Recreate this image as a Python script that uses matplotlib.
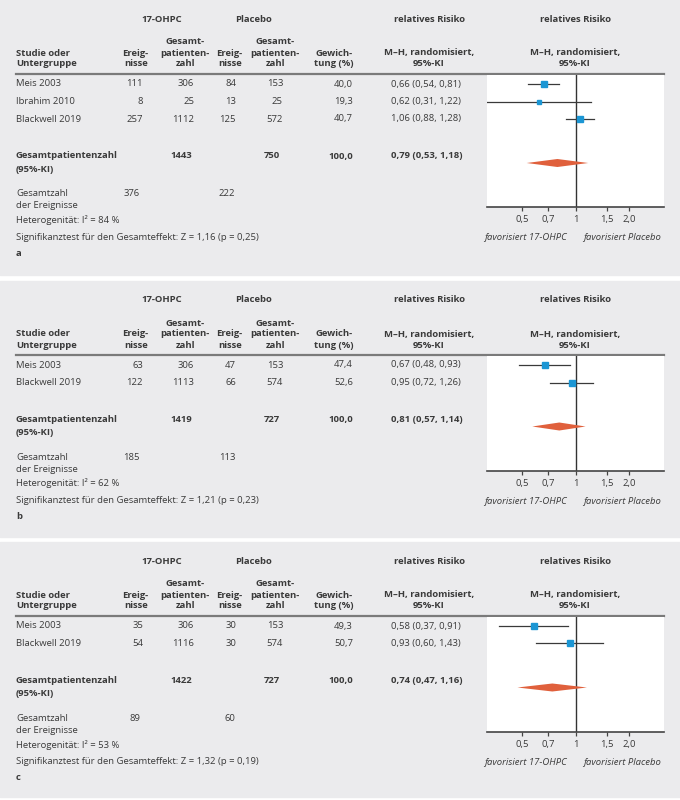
import matplotlib
matplotlib.use("Agg")
import matplotlib.pyplot as plt
from matplotlib.patches import Rectangle, Polygon
from matplotlib.ticker import FixedLocator, FixedFormatter, NullLocator

plt.rcParams['font.family'] = ['Open Sans', 'DejaVu Sans']

# ---- data ----
panel_labels = ['a', 'b', 'c']

studies_a = ['Meis 2003', 'Ibrahim 2010', 'Blackwell 2019']
ev_ohpc_a = [111, 8, 257]
n_ohpc_a = [306, 25, 1112]
ev_plc_a = [84, 13, 125]
n_plc_a = [153, 25, 572]
weight_a = [40.0, 19.3, 40.7]
rr_a = [0.66, 0.62, 1.06]
lo_a = [0.54, 0.31, 0.88]
hi_a = [0.81, 1.22, 1.28]

studies_b = ['Meis 2003', 'Blackwell 2019']
ev_ohpc_b = [63, 122]
n_ohpc_b = [306, 1113]
ev_plc_b = [47, 66]
n_plc_b = [153, 574]
weight_b = [47.4, 52.6]
rr_b = [0.67, 0.95]
lo_b = [0.48, 0.72]
hi_b = [0.93, 1.26]

studies_c = ['Meis 2003', 'Blackwell 2019']
ev_ohpc_c = [35, 54]
n_ohpc_c = [306, 1116]
ev_plc_c = [30, 30]
n_plc_c = [153, 574]
weight_c = [49.3, 50.7]
rr_c = [0.58, 0.93]
lo_c = [0.37, 0.60]
hi_c = [0.91, 1.43]

# pooled results per panel (a, b, c)
tot_n_ohpc = [1443, 1419, 1422]
tot_n_plc = [750, 727, 727]
tot_ev_ohpc = [376, 185, 89]
tot_ev_plc = [222, 113, 60]
tot_rr = [0.79, 0.81, 0.74]
tot_lo = [0.53, 0.57, 0.47]
tot_hi = [1.18, 1.14, 1.16]
i2 = [84, 62, 53]
z_val = [1.16, 1.21, 1.32]
p_val = [0.25, 0.23, 0.19]

tick_vals = [0.5, 0.7, 1, 1.5, 2.0]
tick_labels = ['0,5', '0,7', '1', '1,5', '2,0']

# ---- styling ----
W, H = 680, 800
BG = '#ebebed'
TXT = '#3a3a3a'
BLUE = '#1b96d4'
ORANGE = '#e0603c'
FS = 6.8

def de(v, nd=2):
    return f"{v:.{nd}f}".replace('.', ',')

fig = plt.figure(figsize=(W / 100, H / 100), dpi=100)
fig.patch.set_facecolor('white')
bg = fig.add_axes([0, 0, 1, 1])
bg.set_xlim(0, W)
bg.set_ylim(H, 0)
bg.axis('off')

def txt(x, y, s, ha='left', bold=False, italic=False):
    bg.text(x, y, s, ha=ha, va='center', fontsize=FS, color=TXT,
            fontweight='bold' if bold else 'normal',
            fontstyle='italic' if italic else 'normal')

panels = [
    (studies_a, ev_ohpc_a, n_ohpc_a, ev_plc_a, n_plc_a, weight_a, rr_a, lo_a, hi_a),
    (studies_b, ev_ohpc_b, n_ohpc_b, ev_plc_b, n_plc_b, weight_b, rr_b, lo_b, hi_b),
    (studies_c, ev_ohpc_c, n_ohpc_c, ev_plc_c, n_plc_c, weight_c, rr_c, lo_c, hi_c),
]
tops = [0, 281, 542]
bottoms = [275, 537, 797]

# forest plot x range in pixels
FX0, FX1 = 487, 664

for k, (names, e1, n1, e2, n2, w, rr, lo, hi) in enumerate(panels):
    t = tops[k]
    bg.add_patch(Rectangle((0, t), W, bottoms[k] - t, color=BG, zorder=0))

    # header
    txt(162, t + 19, '17-OHPC', ha='center', bold=True)
    txt(253, t + 19, 'Placebo', ha='center', bold=True)
    txt(429, t + 19, 'relatives Risiko', ha='center', bold=True)
    txt(575, t + 19, 'relatives Risiko', ha='center', bold=True)
    txt(16, t + 53, 'Studie oder', bold=True)
    txt(16, t + 64, 'Untergruppe', bold=True)
    for xr, xc in [(148, 185), (242, 275)]:
        txt(xr, t + 53, 'Ereig-', ha='right', bold=True)
        txt(xr, t + 64, 'nisse', ha='right', bold=True)
        txt(xc, t + 42, 'Gesamt-', ha='center', bold=True)
        txt(xc, t + 53, 'patienten-', ha='center', bold=True)
        txt(xc, t + 64, 'zahl', ha='center', bold=True)
    txt(334, t + 53, 'Gewich-', ha='center', bold=True)
    txt(334, t + 64, 'tung (%)', ha='center', bold=True)
    for xc in [429, 575]:
        txt(xc, t + 53, 'M–H, randomisiert,', ha='center', bold=True)
        txt(xc, t + 64, '95%-KI', ha='center', bold=True)
    bg.plot([16, 664], [t + 74, t + 74], color='#7a7a7a', lw=1.6, zorder=3)

    # study rows
    ys = [t + 84 + 17.5 * i for i in range(len(names))]
    for i, y in enumerate(ys):
        txt(16, y, names[i])
        txt(143, y, str(e1[i]), ha='right')
        txt(194, y, str(n1[i]), ha='right')
        txt(236, y, str(e2[i]), ha='right')
        txt(283, y, str(n2[i]), ha='right')
        txt(353, y, de(w[i], 1), ha='right')
        txt(426, y, f"{de(rr[i])} ({de(lo[i])}, {de(hi[i])})", ha='center')

    # pooled rows
    s = ys[-1] + 37
    txt(16, s, 'Gesamtpatientenzahl', bold=True)
    txt(16, s + 13, '(95%-KI)', bold=True)
    txt(192, s, str(tot_n_ohpc[k]), ha='right', bold=True)
    txt(280, s, str(tot_n_plc[k]), ha='right', bold=True)
    txt(353, s, '100,0', ha='right', bold=True)
    txt(427, s, f"{de(tot_rr[k])} ({de(tot_lo[k])}, {de(tot_hi[k])})", ha='center', bold=True)
    txt(16, s + 38, 'Gesamtzahl')
    txt(16, s + 50, 'der Ereignisse')
    txt(140, s + 38, str(tot_ev_ohpc[k]), ha='right')
    txt(235, s + 38, str(tot_ev_plc[k]), ha='right')
    txt(16, s + 64, f"Heterogenität: I² = {i2[k]} %")
    txt(16, s + 81, f"Signifikanztest für den Gesamteffekt: Z = {de(z_val[k])} (p = {de(p_val[k])})")
    txt(16, s + 97, panel_labels[k], bold=True)

    # forest plot
    line_y = t + 75
    axis_y = s + 51
    ax = fig.add_axes([FX0 / W, 1 - axis_y / H, (FX1 - FX0) / W, (axis_y - line_y) / H])
    ax.set_facecolor('white')
    ax.set_xscale('log')
    ax.set_xlim(10 ** -0.5, 10 ** 0.5)
    ax.set_ylim(axis_y, line_y)
    for sp in ['top', 'left', 'right']:
        ax.spines[sp].set_visible(False)
    ax.spines['bottom'].set_color('#444444')
    ax.spines['bottom'].set_linewidth(1.2)
    ax.axvline(1, color='#333333', lw=1.0, zorder=1)
    for i, y in enumerate(ys):
        ax.plot([lo[i], hi[i]], [y, y], color='#3a3a3a', lw=0.9, zorder=2, clip_on=True)
        ax.plot([rr[i]], [y], marker='s', ms=0.6 * w[i] ** 0.5, color=BLUE, mec=BLUE, zorder=3)
    dy = s + 7
    ax.add_patch(Polygon([(tot_lo[k], dy), (tot_rr[k], dy - 4), (tot_hi[k], dy), (tot_rr[k], dy + 4)],
                         closed=True, color=ORANGE, lw=0, zorder=3))
    ax.xaxis.set_major_locator(FixedLocator(tick_vals))
    ax.xaxis.set_major_formatter(FixedFormatter(tick_labels))
    ax.xaxis.set_minor_locator(NullLocator())
    ax.set_yticks([])
    ax.tick_params(axis='x', length=3, width=0.9, color='#444444', labelsize=FS,
                   labelcolor=TXT, pad=3)

    txt(567, axis_y + 31, 'favorisiert 17-OHPC', ha='right', italic=True)
    txt(583, axis_y + 31, 'favorisiert Placebo', italic=True)

fig.savefig('out.png', dpi=100, facecolor=fig.get_facecolor())
